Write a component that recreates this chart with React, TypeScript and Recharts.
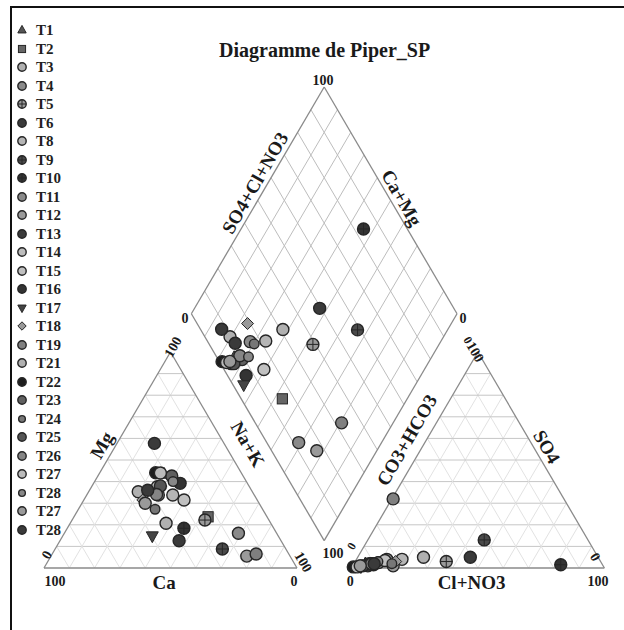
import React from 'react';
import { Legend, ReferenceLine, Scatter, ScatterChart, XAxis, YAxis } from 'recharts';

// samples, in the legend order
const samples = ['T1', 'T2', 'T3', 'T4', 'T5', 'T6', 'T8', 'T9', 'T10', 'T11', 'T12', 'T13', 'T14', 'T15', 'T16', 'T17', 'T18', 'T19', 'T21', 'T22', 'T23', 'T24', 'T25', 'T26', 'T27', 'T28', 'T27', 'T28'];
const markers = ['triangle', 'square', 'circle', 'circle', 'cross', 'circle', 'circle', 'cross', 'cross', 'circle', 'circle', 'circle', 'circle', 'circle', 'circle', 'down', 'diamond', 'circle', 'circle', 'circle', 'circle', 'small', 'circle', 'circle', 'circle', 'small', 'circle', 'circle'];
const shades = ['#555555', '#666666', '#b0b0b0', '#8a8a8a', '#9a9a9a', '#3a3a3a', '#b5b5b5', '#4a4a4a', '#333333', '#8a8a8a', '#9a9a9a', '#3a3a3a', '#bdbdbd', '#c0c0c0', '#333333', '#444444', '#999999', '#808080', '#b0b0b0', '#1e1e1e', '#606060', '#777777', '#555555', '#858585', '#bbbbbb', '#888888', '#9a9a9a', '#3a3a3a'];

// cations (% meq)
const mg = [43.5, 23.7, 35.3, 33.8, 22.2, 12.6, 33.8, 8.8, 18.4, 16.1, 5.5, 57.7, 37.6, 31.5, 39.2, 14.8, 31.5, 6.5, 20.7, 44.1, 42.6, 27.2, 38, 34, 44, 40, 30, 36];
const naK = [25.7, 53, 19.6, 28.3, 52.5, 47.1, 34.0, 66.1, 46.1, 68.8, 77.4, 14.8, 26.0, 39.6, 34.2, 35.4, 23.3, 80.6, 37.9, 22.1, 29.2, 30.3, 27, 27.5, 24, 31, 25, 23];
// anions (% meq)
const so4 = [2, 3, 1.5, 4, 3, 5, 4, 13, 1.5, 2.5, 1, 2, 1, 3.5, 1, 0.5, 3, 32, 5, 0.5, 2, 2, 1, 2, 0.5, 3, 1, 2];
const clNo3 = [4.5, 12.5, 8, 12, 36, 44.5, 18, 46, 82, 9.5, 16, 6, 3, 11.5, 6, 3.5, 16, 0.5, 26, 0.5, 7, 15, 4, 7, 2, 9, 3, 8];

const H = Math.sqrt(3) / 2;
const RIGHT0 = 121.5; // left corner of the anion triangle
const DB = { x: 110.75, y: 11 }; // bottom vertex of the diamond
const DS = 105; // diamond side

const cat = (m: number, n: number) => ({ x: n + m / 2, y: m * H });
const an = (s: number, c: number) => ({ x: RIGHT0 + c + s / 2, y: s * H });
const dia = (u: number, w: number) => ({ x: DB.x + (DS * (w - u)) / 2, y: DB.y + DS * (u + w) * H });

const series = samples.map((name, i) => ({
  name,
  kind: markers[i],
  fill: shades[i],
  points: [
    cat(mg[i], naK[i]),
    an(so4[i], clNo3[i]),
    dia((100 - naK[i]) / 100, (so4[i] + clNo3[i]) / 100),
  ],
}));

type Seg = { a: { x: number; y: number }; b: { x: number; y: number }; c: string; w: number };
const segs: Seg[] = [];
const triangle = (ox: number) => {
  for (let k = 10; k < 100; k += 10) {
    segs.push({ a: { x: ox + k / 2, y: k * H }, b: { x: ox + 100 - k / 2, y: k * H }, c: '#c6c6c6', w: 1 });
    segs.push({ a: { x: ox + k, y: 0 }, b: { x: ox + k + (100 - k) / 2, y: (100 - k) * H }, c: '#e2e2e2', w: 1 });
    segs.push({ a: { x: ox + 100 - k, y: 0 }, b: { x: ox + (100 - k) / 2, y: (100 - k) * H }, c: '#e2e2e2', w: 1 });
  }
  const A = { x: ox, y: 0 };
  const B = { x: ox + 100, y: 0 };
  const C = { x: ox + 50, y: 100 * H };
  segs.push({ a: A, b: B, c: '#8a8a8a', w: 1.3 }, { a: B, b: C, c: '#8a8a8a', w: 1.3 }, { a: C, b: A, c: '#8a8a8a', w: 1.3 });
};
triangle(0);
triangle(RIGHT0);
for (let k = 1; k < 10; k++) {
  segs.push({ a: dia(k / 10, 0), b: dia(k / 10, 1), c: '#bdbdbd', w: 1 });
  segs.push({ a: dia(0, k / 10), b: dia(1, k / 10), c: '#bdbdbd', w: 1 });
}
segs.push(
  { a: dia(0, 0), b: dia(1, 0), c: '#8a8a8a', w: 1.3 },
  { a: dia(1, 0), b: dia(1, 1), c: '#8a8a8a', w: 1.3 },
  { a: dia(1, 1), b: dia(0, 1), c: '#8a8a8a', w: 1.3 },
  { a: dia(0, 1), b: dia(0, 0), c: '#8a8a8a', w: 1.3 },
);

const labels = [
  { x: 110.9, y: 207.7, text: 'Diagramme de Piper_SP', rot: 0, size: 20 },
  { x: 4.3, y: -5.6, text: '100', rot: 0, size: 14 },
  { x: 47.5, y: -6, text: 'Ca', rot: 0, size: 19 },
  { x: 98.8, y: -5.6, text: '0', rot: 0, size: 14 },
  { x: 1.1, y: 5.2, text: '0', rot: -60, size: 14 },
  { x: 51, y: 88.6, text: '100', rot: -60, size: 14 },
  { x: 22.8, y: 49.3, text: 'Mg', rot: -60, size: 19 },
  { x: 80.6, y: 49.7, text: 'Na+K', rot: 60, size: 19 },
  { x: 102.4, y: 2.4, text: '100', rot: 60, size: 14 },
  { x: 114.2, y: 6.0, text: '100', rot: 0, size: 14 },
  { x: 121.6, y: 8.8, text: '0', rot: -60, size: 12 },
  { x: 121, y: -5.6, text: '0', rot: 0, size: 14 },
  { x: 169, y: -6, text: 'Cl+NO3', rot: 0, size: 19 },
  { x: 219, y: -5.6, text: '100', rot: 0, size: 14 },
  { x: 217.8, y: 4.4, text: '0', rot: 60, size: 14 },
  { x: 170.4, y: 86.6, text: '100', rot: 60, size: 14 },
  { x: 167.6, y: 91.4, text: '0', rot: 60, size: 12 },
  { x: 143.4, y: 51.3, text: 'CO3+HCO3', rot: -60, size: 19 },
  { x: 198.7, y: 48.6, text: 'SO4', rot: 60, size: 19 },
  { x: 110.3, y: 195.3, text: '100', rot: 0, size: 14 },
  { x: 55.7, y: 100.2, text: '0', rot: 0, size: 14 },
  { x: 165.6, y: 100.2, text: '0', rot: 0, size: 14 },
  { x: 83.4, y: 154.4, text: 'SO4+Cl+NO3', rot: -60, size: 19 },
  { x: 141.4, y: 148.4, text: 'Ca+Mg', rot: 60, size: 19 },
];

const FONT = '"Liberation Serif", "Times New Roman", serif';

const Marker = ({ cx, cy, kind, fill, r = 6 }: any) => {
  const stroke = '#262626';
  if (kind === 'triangle') {
    return <polygon points={`${cx},${cy - r * 1.1} ${cx + r},${cy + r * 0.7} ${cx - r},${cy + r * 0.7}`} fill={fill} stroke={stroke} strokeWidth={1} />;
  }
  if (kind === 'down') {
    return <polygon points={`${cx},${cy + r * 1.1} ${cx + r},${cy - r * 0.7} ${cx - r},${cy - r * 0.7}`} fill={fill} stroke={stroke} strokeWidth={1} />;
  }
  if (kind === 'square') {
    return <rect x={cx - r * 0.85} y={cy - r * 0.85} width={r * 1.7} height={r * 1.7} fill={fill} stroke={stroke} strokeWidth={1} />;
  }
  if (kind === 'diamond') {
    return <polygon points={`${cx},${cy - r} ${cx + r},${cy} ${cx},${cy + r} ${cx - r},${cy}`} fill={fill} stroke={stroke} strokeWidth={1} />;
  }
  if (kind === 'cross') {
    return (
      <g>
        <circle cx={cx} cy={cy} r={r} fill={fill} stroke={stroke} strokeWidth={1.4} />
        <line x1={cx - r} y1={cy} x2={cx + r} y2={cy} stroke={stroke} strokeWidth={1} />
        <line x1={cx} y1={cy - r} x2={cx} y2={cy + r} stroke={stroke} strokeWidth={1} />
      </g>
    );
  }
  const rr = kind === 'small' ? r * 0.8 : r;
  return <circle cx={cx} cy={cy} r={rr} fill={fill} stroke={stroke} strokeWidth={1.4} />;
};

const LegendList = () => (
  <div style={{ fontFamily: FONT, fontWeight: 'bold', fontSize: 15, color: '#1f1f1f', lineHeight: '18.5px' }}>
    {series.map((s, i) => (
      <div key={i} style={{ display: 'flex', alignItems: 'center', height: 18.5 }}>
        <svg width={12} height={12} style={{ display: 'block' }}>
          <Marker cx={6} cy={6} kind={s.kind} fill={s.fill} r={4.2} />
        </svg>
        <span style={{ marginLeft: 8 }}>{s.name}</span>
      </div>
    ))}
  </div>
);

const LabelText = (props: any) => {
  const { cx, cy, payload } = props;
  return (
    <text
      x={cx}
      y={cy}
      transform={payload.rot ? `rotate(${payload.rot} ${cx} ${cy})` : undefined}
      textAnchor="middle"
      dominantBaseline="central"
      fontFamily={FONT}
      fontWeight="bold"
      fontSize={payload.size}
      fill="#1a1a1a"
    >
      {payload.text}
    </text>
  );
};

const App = () => {
  return (
    <div style={{ position: 'absolute', left: 0, top: 0, width: 624, height: 630, background: '#fff', overflow: 'hidden' }}>
      <div style={{ position: 'absolute', left: 10, top: 6, width: 700, height: 700, borderLeft: '2px solid #111', borderTop: '2px solid #111' }} />
      <ScatterChart width={624} height={630} margin={{ top: 0, right: 0, bottom: 0, left: 0 }}>
        <XAxis type="number" dataKey="x" domain={[-17.391, 229.249]} allowDataOverflow hide />
        <YAxis type="number" dataKey="y" domain={[-24.86, 227.747]} allowDataOverflow hide />
        {segs.map((s, i) => (
          <ReferenceLine key={i} segment={[s.a, s.b]} stroke={s.c} strokeWidth={s.w} ifOverflow="visible" />
        ))}
        <Scatter name="labels" data={labels} shape={LabelText} isAnimationActive={false} legendType="none" />
        {series.map((s, i) => (
          <Scatter
            key={i}
            name={s.name}
            data={s.points}
            isAnimationActive={false}
            shape={(p: any) => <Marker cx={p.cx} cy={p.cy} kind={s.kind} fill={s.fill} />}
          />
        ))}
        <Legend
          layout="vertical"
          align="center"
          verticalAlign="middle"
          content={<LegendList />}
          wrapperStyle={{ left: 16, top: 21, width: 60 }}
        />
      </ScatterChart>
    </div>
  );
};

export default App;
